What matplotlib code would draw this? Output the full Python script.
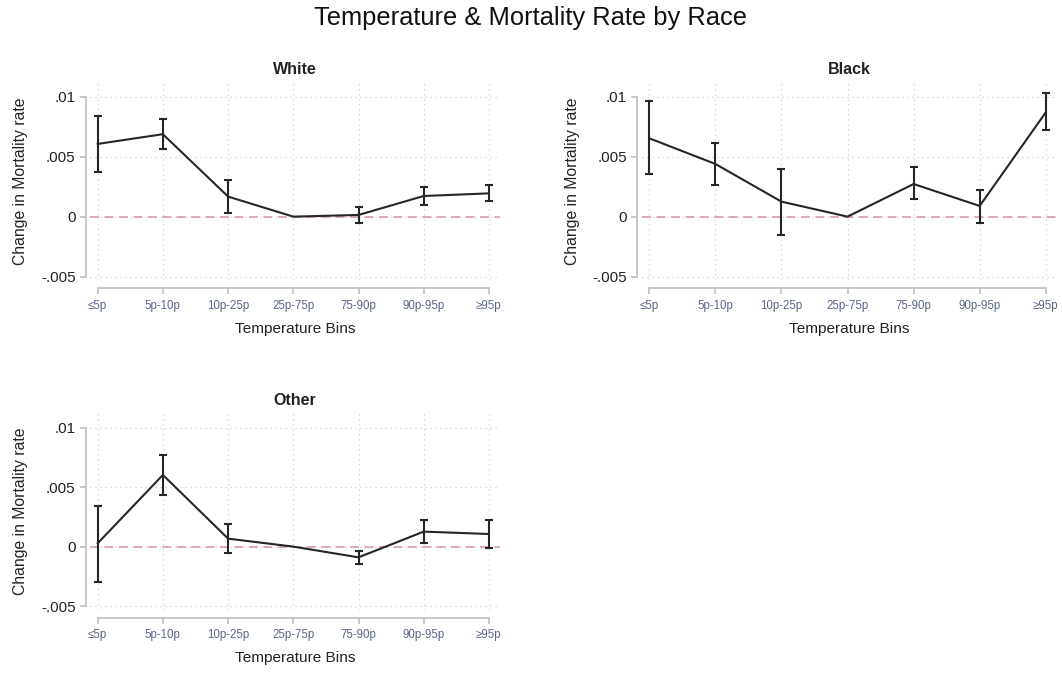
import matplotlib
matplotlib.use("Agg")
import matplotlib.pyplot as plt
import numpy as np

plt.rcParams['font.family'] = ['Liberation Sans', 'DejaVu Sans']

bins = ['≤5p', '5p-10p', '10p-25p', '25p-75p', '75-90p', '90p-95p', '≥95p']
yticks = [-0.005, 0, 0.005, 0.01]
yticklabels = ['-.005', '0', '.005', '.01']

white_est = [0.00606, 0.00687, 0.00167, 0.0, 0.00014, 0.00172, 0.00194]
white_lo = [0.00375, 0.00561, 0.00028, 0.0, -0.00055, 0.00095, 0.00131]
white_hi = [0.00839, 0.00811, 0.00306, 0.0, 0.00081, 0.00250, 0.00264]

black_est = [0.00653, 0.00439, 0.00125, 0.0, 0.00272, 0.00089, 0.00869]
black_lo = [0.00356, 0.00264, -0.00153, 0.0, 0.00144, -0.00056, 0.00719]
black_hi = [0.00964, 0.00611, 0.00400, 0.0, 0.00411, 0.00225, 0.01028]

other_est = [0.00028, 0.00602, 0.00067, 0.0, -0.00090, 0.00126, 0.00106]
other_lo = [-0.00297, 0.00437, -0.00056, 0.0, -0.00146, 0.00028, -0.00014]
other_hi = [0.00342, 0.00768, 0.00190, 0.0, -0.00034, 0.00221, 0.00224]

W, H = 1062, 673
fig = plt.figure(figsize=(W / 100, H / 100), dpi=100)

def px_axes(left, top, right, bottom):
    return fig.add_axes([left / W, 1 - bottom / H, (right - left) / W, (bottom - top) / H])

panels = [
    ('White', white_est, white_lo, white_hi, (90, 82, 500, 280)),
    ('Black', black_est, black_lo, black_hi, (641.5, 82, 1057, 280)),
    ('Other', other_est, other_lo, other_hi, (90, 413, 500, 609.5)),
]

spine_col = '#c4c4c4'
for name, est, lo, hi, box in panels:
    ax = px_axes(*box)
    for s in ['top', 'right']:
        ax.spines[s].set_visible(False)
    ax.spines['left'].set_position(('outward', 2.9))
    ax.spines['bottom'].set_position(('outward', 5.8))

    x = np.arange(len(bins))
    est = np.array(est); lo = np.array(lo); hi = np.array(hi)
    ax.axhline(0, color='#d9a3bd', lw=1.3, ls=(0, (5, 3)), zorder=1)
    ax.plot(x, est, color='#262626', lw=1.5, zorder=3)
    mask = hi != lo
    ax.errorbar(x[mask], est[mask], yerr=[est[mask] - lo[mask], hi[mask] - est[mask]],
                fmt='none', ecolor='#262626', elinewidth=1.5, capsize=3, capthick=1.5, zorder=3)
    ax.set_xlim(-0.118, 6.17)
    ax.set_ylim(-0.00528, 0.01122)
    ax.set_xticks(x)
    ax.set_xticklabels(bins)
    ax.set_yticks(yticks)
    ax.set_yticklabels(yticklabels)
    ax.grid(True, ls=(0, (1, 3)), color='#d0d0d0', lw=0.9)
    ax.set_axisbelow(True)
    ax.spines['left'].set_bounds(-0.005, 0.01)
    ax.spines['bottom'].set_bounds(0, 6)
    for s in ['left', 'bottom']:
        ax.spines[s].set_color(spine_col)
        ax.spines[s].set_linewidth(1.3)
    ax.tick_params(axis='both', color=spine_col, width=1.3, length=4.5)
    ax.tick_params(axis='x', pad=4, labelsize=8.3, labelcolor='#5a6488')
    ax.tick_params(axis='y', pad=3, labelsize=11, labelcolor='#222222')
    ax.set_ylabel('Change in Mortality rate', fontsize=11.3, color='#222222', labelpad=9)
    ax.set_xlabel('Temperature Bins', fontsize=11.1, color='#222222', labelpad=7)
    ax.set_title(name, fontsize=11.5, fontweight='bold', color='#222222', pad=6)
    ax.patch.set_alpha(0)

fig.text(0.5, 1 - 18 / H, 'Temperature & Mortality Rate by Race', ha='center', va='center',
         fontsize=18.4, color='#111111')

fig.savefig('out.png', dpi=100, facecolor='white')
